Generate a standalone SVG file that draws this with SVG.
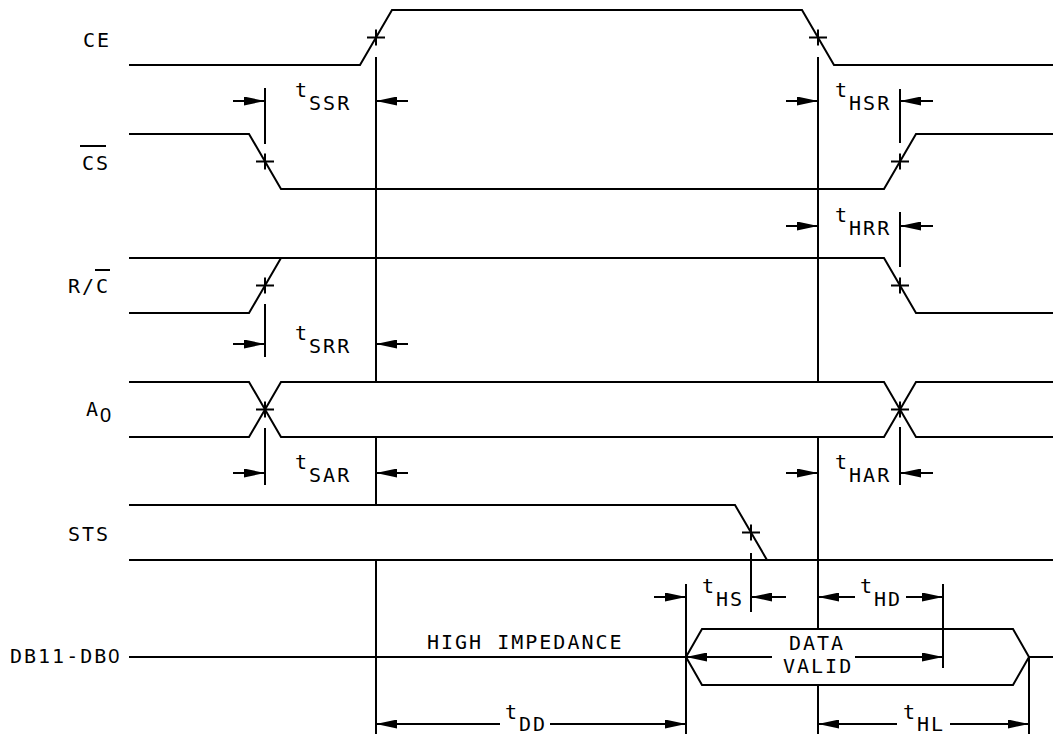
<svg xmlns="http://www.w3.org/2000/svg" width="1053" height="734" viewBox="0 0 1053 734">
<style>
.w{fill:none;stroke:#000;stroke-width:2}
.t{font-family:"DejaVu Sans Mono","Liberation Mono",monospace;font-size:20px;letter-spacing:2px;fill:#000}
.z{font-family:"Liberation Sans",sans-serif}
.a{fill:none;stroke:#000;stroke-width:2;marker-end:url(#ah)}
</style>
<defs>
<marker id="ah" viewBox="0 0 21 9" refX="21" refY="4.5" markerWidth="21" markerHeight="9" markerUnits="userSpaceOnUse" orient="auto"><path d="M0,0 L21,4.5 L0,9 z" fill="#000"/></marker>
</defs>
<rect width="1053" height="734" fill="#fff"/>
<g id="sig-ce">
<text class="t" x="83" y="47">CE</text>
<path class="w" d="M129,65 H360 L392,10 H802 L834,65 H1053"/>
<path class="w" d="M367,37.5 H385 M376,29.5 V45.5 M809,37.5 H827 M818,29.5 V45.5"/>
</g>
<g id="sig-cs">
<text class="t" x="82" y="170">CS</text>
<path class="w" d="M80,146 H106"/>
<path class="w" d="M129,134 H249 L281,189 H884 L916,134 H1053"/>
<path class="w" d="M256,161.5 H274 M265,153.5 V169.5 M891,161.5 H909 M900,153.5 V169.5"/>
</g>
<g id="sig-rc">
<text class="t" x="68" y="293">R/C</text>
<path class="w" d="M95,270 H110"/>
<path class="w" d="M129,258 H884 L916,313 H1053 M129,313 H249 L281,258"/>
<path class="w" d="M256,285.5 H274 M265,277.5 V293.5 M891,285.5 H909 M900,277.5 V293.5"/>
</g>
<g id="sig-a0">
<text class="t" x="86" y="416">A<tspan dy="6" class="z">0</tspan></text>
<path class="w" d="M129,382 H249 L281,437 H884 L916,382 H1053 M129,437 H249 L281,382 H884 L916,437 H1053"/>
<path class="w" d="M256,409.5 H274 M265,401.5 V417.5 M891,409.5 H909 M900,401.5 V417.5"/>
</g>
<g id="sig-sts">
<text class="t" x="68" y="541">STS</text>
<path class="w" d="M129,505 H735 L767,560 M129,560 H1053"/>
<path class="w" d="M742,532.5 H760 M751,524.5 V540.5"/>
</g>
<g id="sig-db">
<text class="t" x="10" y="663">DB11-DB<tspan class="z">0</tspan></text>
<path class="w" d="M129,657 H686 M1029,657 H1053"/>
<path class="w" d="M686,657 L702,629 H1013 L1029,657 L1013,685 H702 Z"/>
<text class="t" x="427" y="649">HIGH IMPEDANCE</text>
<text class="t" x="789" y="650">DATA</text>
<text class="t" x="783" y="673">VALID</text>
</g>
<g id="connectors">
<path class="w" d="M376,57 V382 M376,437 V505 M376,560 V734"/>
<path class="w" d="M818,57 V382 M818,437 V629 M818,685 V734"/>
<path class="w" d="M265,88 V144 M265,304 V357 M265,428 V485"/>
<path class="w" d="M900,89 V143 M900,212 V267 M900,427 V485"/>
<path class="w" d="M751,553 V612 M943,584 V668 M686,584 V734 M1029,657 V734"/>
<line class="a" x1="233" y1="101" x2="265" y2="101"/>
<line class="a" x1="408" y1="101" x2="376" y2="101"/>
<line class="a" x1="786" y1="101" x2="818" y2="101"/>
<line class="a" x1="933" y1="101" x2="900" y2="101"/>
<line class="a" x1="786" y1="226" x2="818" y2="226"/>
<line class="a" x1="933" y1="226" x2="900" y2="226"/>
<line class="a" x1="233" y1="344" x2="265" y2="344"/>
<line class="a" x1="408" y1="344" x2="376" y2="344"/>
<line class="a" x1="233" y1="473" x2="265" y2="473"/>
<line class="a" x1="408" y1="473" x2="376" y2="473"/>
<line class="a" x1="786" y1="473" x2="818" y2="473"/>
<line class="a" x1="933" y1="473" x2="900" y2="473"/>
<line class="a" x1="654" y1="597" x2="686" y2="597"/>
<line class="a" x1="786" y1="597" x2="751" y2="597"/>
<line class="a" x1="855" y1="597" x2="818" y2="597"/>
<line class="a" x1="906" y1="597" x2="943" y2="597"/>
<line class="a" x1="772" y1="657" x2="686" y2="657"/>
<line class="a" x1="855" y1="657" x2="943" y2="657"/>
<line class="a" x1="500" y1="724" x2="376" y2="724"/>
<line class="a" x1="550" y1="724" x2="686" y2="724"/>
<line class="a" x1="897" y1="724" x2="818" y2="724"/>
<line class="a" x1="950" y1="724" x2="1029" y2="724"/>
</g>
<g id="labels">
<text class="t" x="295" y="97">t<tspan dy="13">SSR</tspan></text>
<text class="t" x="835" y="97">t<tspan dy="13">HSR</tspan></text>
<text class="t" x="835" y="222">t<tspan dy="13">HRR</tspan></text>
<text class="t" x="295" y="340">t<tspan dy="13">SRR</tspan></text>
<text class="t" x="295" y="469">t<tspan dy="13">SAR</tspan></text>
<text class="t" x="835" y="469">t<tspan dy="13">HAR</tspan></text>
<text class="t" x="702" y="593">t<tspan dy="13">HS</tspan></text>
<text class="t" x="860" y="593">t<tspan dy="13">HD</tspan></text>
<text class="t" x="505" y="719">t<tspan dy="12">DD</tspan></text>
<text class="t" x="903" y="719">t<tspan dy="12">HL</tspan></text>
</g>
</svg>
